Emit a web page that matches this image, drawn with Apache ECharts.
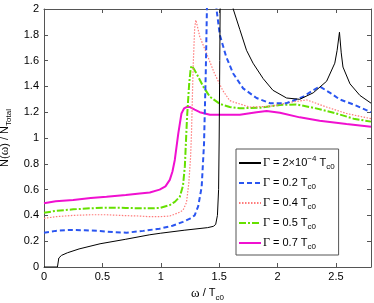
<!DOCTYPE html>
<html><head><meta charset="utf-8">
<script src="https://cdn.jsdelivr.net/npm/echarts@6/dist/echarts.min.js"></script>
<style>html,body{margin:0;padding:0;background:#fff}#c{width:374px;height:303px}</style>
</head><body><div id="c"></div>
<script>
const xTicks = [0, 0.5, 1, 1.5, 2, 2.5];
const yTicks = [0, 0.2, 0.4, 0.6, 0.8, 1, 1.2, 1.4, 1.6, 1.8, 2];
const seriesNames = ['g0002', 'g02', 'g04', 'g05', 'g07'];
const legendLabels = [
  '{g|Γ}{t| = 2×10}{sup|−4}{t| T}{sub|c0}',
  '{g|Γ}{t| = 0.2 T}{sub|c0}',
  '{g|Γ}{t| = 0.4 T}{sub|c0}',
  '{g|Γ}{t| = 0.5 T}{sub|c0}',
  '{g|Γ}{t| = 0.7 T}{sub|c0}'
];
const gamma0002 = [[0,0],[0.115,0],[0.125,0],[0.127,0.07],[0.15,0.09],[0.2,0.11],[0.3,0.14],[0.48,0.18],[0.7,0.215],[0.906,0.25],[1.0,0.262],[1.2,0.285],[1.4,0.305],[1.45,0.315],[1.47,0.33],[1.485,0.40],[1.495,0.6],[1.50,1.0],[1.505,1.6],[1.51,2.2],[1.515,5],[1.6,5],[1.615,2.2],[1.62,2.0],[1.677,1.84],[1.734,1.68],[1.79,1.58],[1.877,1.46],[1.96,1.37],[2.077,1.31],[2.19,1.30],[2.305,1.35],[2.42,1.44],[2.49,1.58],[2.51,1.68],[2.53,1.82],[2.545,1.66],[2.56,1.55],[2.62,1.42],[2.705,1.33],[2.8,1.27]];
const gamma02 = [[0,0.266],[0.1,0.28],[0.22,0.287],[0.35,0.285],[0.48,0.279],[0.6,0.27],[0.706,0.266],[0.85,0.28],[0.99,0.297],[1.1,0.32],[1.19,0.35],[1.25,0.375],[1.29,0.40],[1.32,0.47],[1.35,0.62],[1.37,0.95],[1.385,1.5],[1.395,2.0],[1.40,2.6],[1.43,4],[1.465,2.6],[1.477,2.0],[1.505,1.80],[1.56,1.63],[1.62,1.50],[1.705,1.385],[1.82,1.31],[1.934,1.27],[2.077,1.27],[2.22,1.32],[2.305,1.37],[2.36,1.40],[2.45,1.35],[2.53,1.30],[2.65,1.26],[2.8,1.20]];
const gamma04 = [[0,0.377],[0.1,0.39],[0.25,0.40],[0.4,0.405],[0.535,0.405],[0.7,0.398],[0.82,0.395],[0.906,0.39],[0.99,0.39],[1.077,0.395],[1.15,0.42],[1.19,0.44],[1.22,0.5],[1.24,0.65],[1.255,0.85],[1.263,1.04],[1.277,1.55],[1.29,1.85],[1.30,1.915],[1.315,1.86],[1.334,1.785],[1.39,1.66],[1.46,1.50],[1.53,1.37],[1.59,1.29],[1.62,1.28],[1.76,1.24],[1.934,1.245],[2.13,1.28],[2.25,1.295],[2.42,1.24],[2.59,1.19],[2.8,1.15]];
const gamma05 = [[0,0.42],[0.1,0.435],[0.25,0.447],[0.4,0.455],[0.535,0.46],[0.7,0.458],[0.82,0.455],[0.906,0.455],[0.99,0.457],[1.077,0.48],[1.12,0.505],[1.163,0.545],[1.19,0.63],[1.206,0.78],[1.225,1.165],[1.243,1.42],[1.255,1.53],[1.263,1.56],[1.28,1.54],[1.306,1.50],[1.363,1.40],[1.42,1.32],[1.505,1.265],[1.59,1.24],[1.677,1.23],[1.85,1.235],[2.02,1.256],[2.16,1.26],[2.305,1.235],[2.48,1.196],[2.65,1.15],[2.8,1.127]];
const gamma07 = [[0,0.494],[0.1,0.51],[0.25,0.52],[0.4,0.535],[0.535,0.545],[0.7,0.558],[0.82,0.57],[0.906,0.578],[0.99,0.60],[1.04,0.625],[1.077,0.675],[1.10,0.74],[1.12,0.83],[1.15,1.036],[1.177,1.19],[1.20,1.23],[1.22,1.24],[1.25,1.24],[1.29,1.22],[1.334,1.20],[1.42,1.18],[1.59,1.18],[1.677,1.18],[1.82,1.20],[1.906,1.21],[2.02,1.196],[2.19,1.16],[2.36,1.134],[2.59,1.108],[2.8,1.087]];

const allData = [gamma0002, gamma02, gamma04, gamma05, gamma07];
const styles = [
  {color:'#000000', width:1, type:'solid'},
  {color:'#2a55f0', width:2, type:[5,3]},
  {color:'#ff7a7a', width:1.2, type:[1.5,1.5]},
  {color:'#66e000', width:2, type:[7,2,2,2]},
  {color:'#f010d0', width:2, type:'solid'}
];
const sans = 'Liberation Sans, Arial, Helvetica, sans-serif';
const serif = 'Liberation Serif, Times New Roman, serif';
const rich = {
  g:{fontFamily:serif, fontSize:12, color:'#000', lineHeight:16},
  t:{fontFamily:sans, fontSize:11, color:'#000', lineHeight:16},
  sup:{fontFamily:sans, fontSize:8, color:'#000', lineHeight:16, verticalAlign:'top'},
  sub:{fontFamily:sans, fontSize:8, color:'#000', lineHeight:16, verticalAlign:'bottom'}
};
const nameRich = {
  w:{fontFamily:serif,fontSize:13,color:'#000',lineHeight:16},
  t:{fontFamily:sans,fontSize:11,color:'#000',lineHeight:16},
  sub:{fontFamily:sans,fontSize:8,color:'#000',lineHeight:16,verticalAlign:'bottom'}
};
const chart = echarts.init(document.getElementById('c'), null, {renderer:'canvas'});
const frame = '#555';
const axisCommon = {
  axisLine:{show:true, onZero:false, lineStyle:{color:frame, width:1}},
  axisTick:{show:true, inside:true, length:4, lineStyle:{color:frame}},
  splitLine:{show:false}
};
chart.setOption({
  animation:false,
  grid:{left:44, right:3, top:9, bottom:36, containLabel:false, outerBoundsMode:'none'},
  xAxis:[
    Object.assign({type:'value', min:0, max:2.8, interval:0.5, position:'bottom',
      axisLabel:{color:'#000', fontFamily:sans, fontSize:11, margin:4,
        formatter:v=> xTicks.indexOf(Math.round(v*100)/100) >= 0 ? String(Math.round(v*100)/100) : ''},
      name:'{w|ω}{t| / T}{sub|c0}', nameLocation:'middle', nameGap:15,
      nameTextStyle:{rich:nameRich}
    }, axisCommon),
    Object.assign({type:'value', min:0, max:2.8, interval:0.5, position:'top', axisLabel:{show:false}}, axisCommon)
  ],
  yAxis:[
    Object.assign({type:'value', min:0, max:2, interval:0.2, position:'left',
      axisLabel:{color:'#000', fontFamily:sans, fontSize:11, margin:5,
        formatter:v=> { const r = Math.round(v*10)/10; return yTicks.indexOf(r) >= 0 ? String(r) : ''; }},
      name:'{t|N(}{w|ω}{t|) / N}{sub|Total}', nameLocation:'middle', nameGap:22, nameRotate:90,
      nameTextStyle:{rich:nameRich}
    }, axisCommon),
    Object.assign({type:'value', min:0, max:2, interval:0.2, position:'right', axisLabel:{show:false}}, axisCommon)
  ],
  legend:{
    orient:'vertical', left:236, top:149, width:106,
    padding:[6,4,4,2], itemGap:4, itemWidth:22, itemHeight:10,
    borderColor:frame, borderWidth:1, backgroundColor:'#fff', borderRadius:0,
    data:seriesNames,
    itemStyle:{opacity:0},
    formatter:name=> legendLabels[seriesNames.indexOf(name)],
    textStyle:{rich:rich, fontSize:11, lineHeight:16, padding:[0,0,0,-3]}
  },
  series: allData.map((d,i)=>({
    name:seriesNames[i], type:'line', data:d, symbol:'none', showSymbol:false,
    clip:true, smooth:false, z: 10 - i,
    lineStyle:{color:styles[i].color, width:styles[i].width, type:styles[i].type},
    itemStyle:{color:styles[i].color}
  }))
});
</script></body></html>
